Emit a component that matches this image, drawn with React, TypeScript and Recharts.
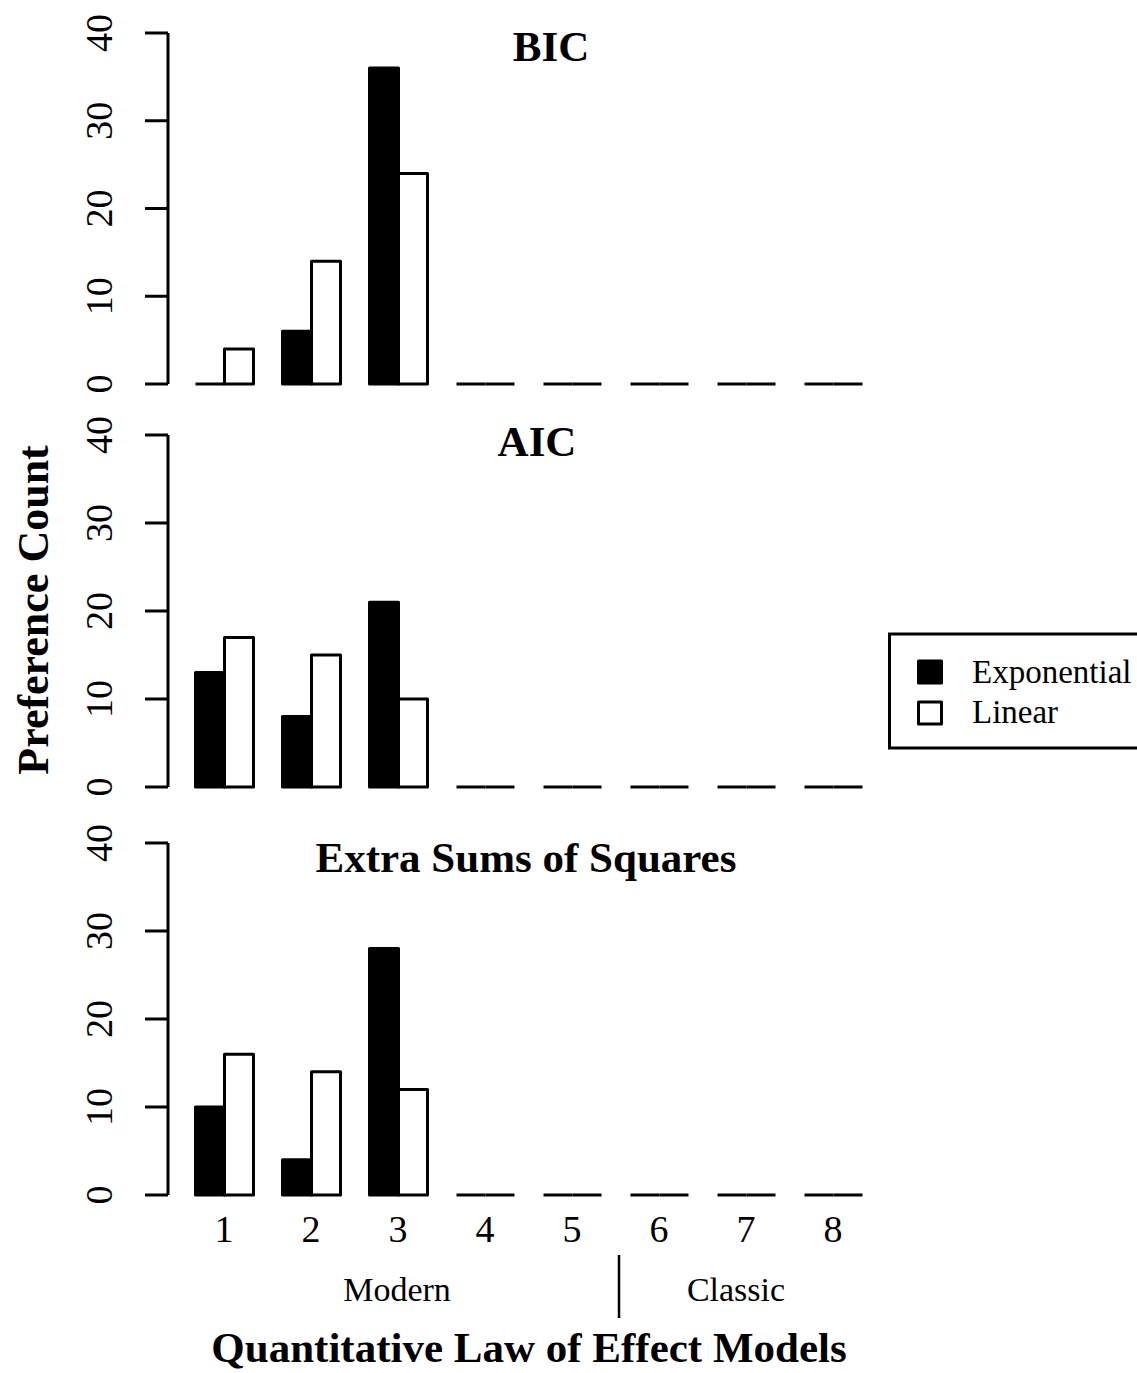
import React from 'react';
import { BarChart, Bar, XAxis, YAxis } from 'recharts';

const models = ['1', '2', '3', '4', '5', '6', '7', '8'];
const bicExponential = [0, 6, 36, 0, 0, 0, 0, 0];
const bicLinear = [4, 14, 24, 0, 0, 0, 0, 0];
const aicExponential = [13, 8, 21, 0, 0, 0, 0, 0];
const aicLinear = [17, 15, 10, 0, 0, 0, 0, 0];
const essExponential = [10, 4, 28, 0, 0, 0, 0, 0];
const essLinear = [16, 14, 12, 0, 0, 0, 0, 0];
const yTicks = [0, 10, 20, 30, 40];

const seriesNames = ['Exponential', 'Linear'];
const seriesFills = ['#000000', '#ffffff'];

const FONT = '"Liberation Serif", "Times New Roman", serif';

const toRows = (exp: number[], lin: number[]) =>
  models.map((m, i) => ({ model: m, exponential: exp[i], linear: lin[i] }));

// R-style bar: outlined rect, zero-height bars collapse to a flat segment
const BarShape = (props: any) => {
  const { x, y, width, height, fill } = props;
  if (!height || Math.abs(height) < 0.5) {
    return <line x1={x} x2={x + width} y1={y} y2={y} stroke="#000" strokeWidth={3} />;
  }
  return (
    <rect x={x} y={y} width={width} height={height} fill={fill}
      stroke="#000" strokeWidth={3} strokeLinejoin="round" />
  );
};

const YTick = (props: any) => {
  const { y, payload } = props;
  const bx = 112;
  return (
    <text x={bx} y={y} transform={`rotate(-90 ${bx} ${y})`} textAnchor="middle"
      fontFamily={FONT} fontSize={38} fill="#000">
      {payload.value}
    </text>
  );
};

const XTick = (props: any) => {
  const { x, y, payload } = props;
  return (
    <text x={x} y={y + 47} textAnchor="middle" fontFamily={FONT} fontSize={38} fill="#000">
      {payload.value}
    </text>
  );
};

interface PanelProps {
  top: number;
  height: number;
  marginTop: number;
  marginBottom: number;
  exp: number[];
  lin: number[];
  showX?: boolean;
}

const Panel = ({ top, height, marginTop, marginBottom, exp, lin, showX }: PanelProps) => (
  <div style={{ position: 'absolute', left: 0, top }}>
    <BarChart width={900} height={height} data={toRows(exp, lin)}
      margin={{ top: marginTop, right: 23.5, left: 0, bottom: marginBottom }}
      barGap={0} barSize={29}>
      <XAxis dataKey="model" hide={!showX} height={60} padding={{ left: 12.5, right: 0 }}
        axisLine={false} tickLine={false} tickSize={0} tickMargin={0} tick={<XTick />}
        interval={0} />
      <YAxis width={168} domain={[0, 40]} ticks={yTicks} interval={0}
        axisLine={{ stroke: '#000', strokeWidth: 3 }}
        tickLine={{ stroke: '#000', strokeWidth: 3 }} tickSize={23} tick={<YTick />} />
      <Bar dataKey="exponential" name={seriesNames[0]} fill={seriesFills[0]}
        shape={<BarShape />} isAnimationActive={false} />
      <Bar dataKey="linear" name={seriesNames[1]} fill={seriesFills[1]}
        shape={<BarShape />} isAnimationActive={false} />
    </BarChart>
  </div>
);

const titles = [
  { text: 'BIC', x: 551, y: 61 },
  { text: 'AIC', x: 537, y: 456 },
  { text: 'Extra Sums of Squares', x: 526, y: 872 },
];

export default function App() {
  return (
    <div style={{ position: 'absolute', left: 0, top: 0, width: 1137, height: 1373, background: '#fff', overflow: 'hidden' }}>
      <Panel top={0} height={400} marginTop={33} marginBottom={16}
        exp={bicExponential} lin={bicLinear} />
      <Panel top={400} height={400} marginTop={35} marginBottom={13}
        exp={aicExponential} lin={aicLinear} />
      <Panel top={800} height={460} marginTop={43} marginBottom={5}
        exp={essExponential} lin={essLinear} showX />

      <svg width={1137} height={1373} style={{ position: 'absolute', left: 0, top: 0, pointerEvents: 'none' }}>
        {titles.map((t) => (
          <text key={t.text} x={t.x} y={t.y} textAnchor="middle" fontFamily={FONT}
            fontWeight="bold" fontSize={43} fill="#000">{t.text}</text>
        ))}
        <text x={48} y={610} transform="rotate(-90 48 610)" textAnchor="middle"
          fontFamily={FONT} fontWeight="bold" fontSize={44} fill="#000">Preference Count</text>

        <text x={397} y={1301} textAnchor="middle" fontFamily={FONT} fontSize={34} fill="#000">Modern</text>
        <text x={736} y={1301} textAnchor="middle" fontFamily={FONT} fontSize={34} fill="#000">Classic</text>
        <line x1={619} x2={619} y1={1255} y2={1318} stroke="#000" strokeWidth={2.5} />
        <text x={529} y={1362} textAnchor="middle" fontFamily={FONT} fontWeight="bold"
          fontSize={43} fill="#000">Quantitative Law of Effect Models</text>

        {/* legend */}
        <rect x={889.5} y={634} width={260} height={114} fill="#fff" stroke="#000" strokeWidth={3} />
        {seriesNames.map((name, i) => (
          <g key={name}>
            <rect x={918.5} y={661 + i * 41} width={23} height={22} fill={seriesFills[i]}
              stroke="#000" strokeWidth={3} strokeLinejoin="round" />
            <text x={972} y={683 + i * 40} fontFamily={FONT} fontSize={33} fill="#000">{name}</text>
          </g>
        ))}
      </svg>
    </div>
  );
}
